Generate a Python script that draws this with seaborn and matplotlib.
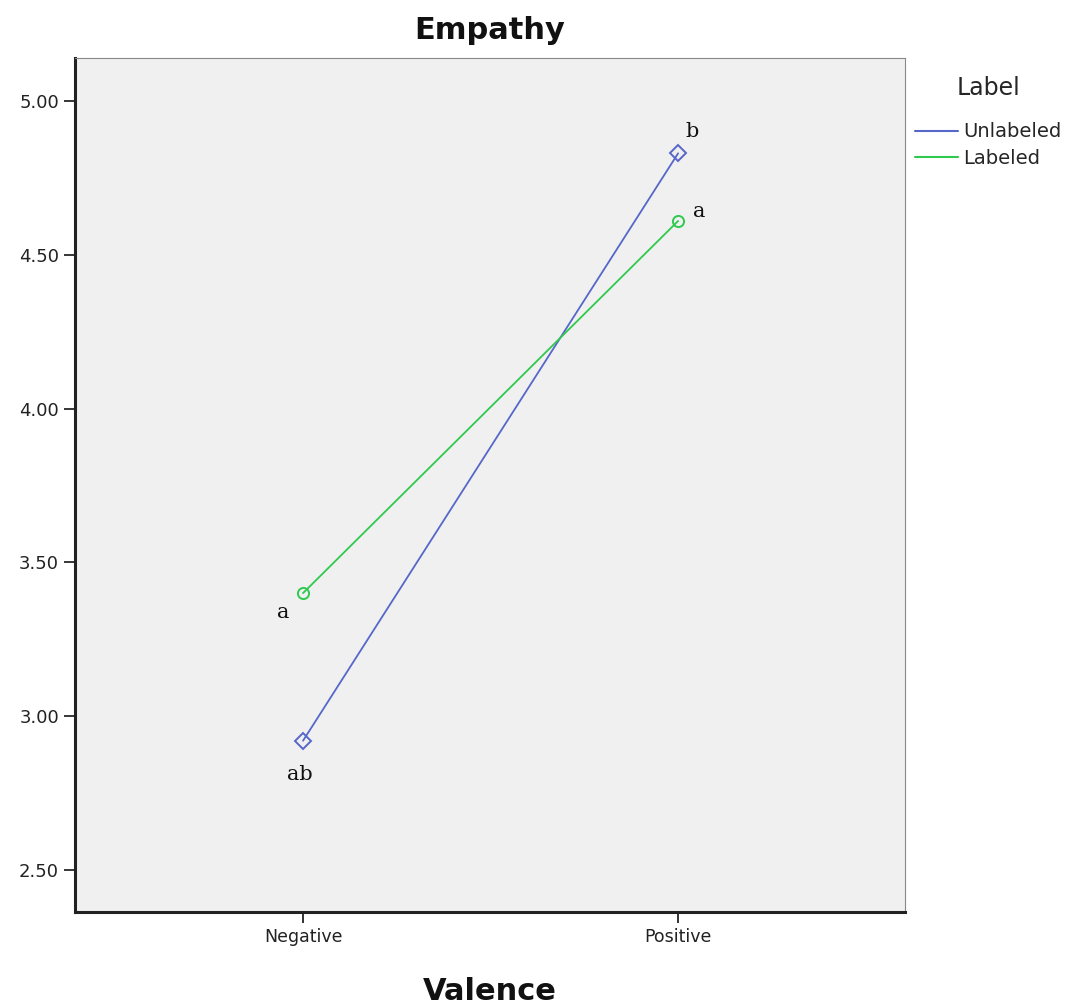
import numpy as np
import pandas as pd
import matplotlib
matplotlib.use("Agg")
import matplotlib.pyplot as plt
from matplotlib.lines import Line2D
import seaborn as sns

# data
valence = ["Negative", "Positive"]
labels = ["Unlabeled", "Labeled"]
unlabeled_means = [2.92, 4.83]
labeled_means = [3.40, 4.61]
letters_unlabeled = ["ab", "b"]
letters_labeled = ["a", "a"]
y_ticks = [2.50, 3.00, 3.50, 4.00, 4.50, 5.00]

colors = {"Unlabeled": "#5567c9", "Labeled": "#2fc94e"}

df = pd.DataFrame({
    "Valence": valence * 2,
    "Empathy": unlabeled_means + labeled_means,
    "Label": [labels[0]] * 2 + [labels[1]] * 2,
})

sns.set_style("white")
plt.rcParams["font.family"] = ["DejaVu Sans"]

fig = plt.figure(figsize=(10.68, 10.05), dpi=100)
ax = fig.add_axes([0.0702, 0.0925, 0.7772, 0.8498])
ax.set_facecolor("#f0f0f0")

sns.pointplot(data=df, x="Valence", y="Empathy", hue="Label", order=valence,
              hue_order=labels, palette=colors, markers=["D", "o"],
              errorbar=None, dodge=False, linewidth=1.3, markersize=8, ax=ax)

# hollow markers
for line in ax.lines:
    line.set_markerfacecolor("none")
    line.set_markeredgewidth(1.4)

if ax.get_legend() is not None:
    ax.get_legend().remove()

ax.set_xlim(-0.608, 1.605)
ax.set_ylim(2.363, 5.14)
ax.set_yticks(y_ticks)
ax.set_yticklabels([f"{v:.2f}" for v in y_ticks], fontsize=13, color="#222222")
ax.tick_params(axis="x", labelsize=12.5, colors="#222222", length=8, width=1.3, direction="out")
ax.tick_params(axis="y", length=8, width=1.3, direction="out")
ax.tick_params(bottom=True, left=True)

for side in ["left", "bottom"]:
    ax.spines[side].set_linewidth(2.2)
    ax.spines[side].set_color("#222222")
for side in ["top", "right"]:
    ax.spines[side].set_linewidth(0.8)
    ax.spines[side].set_color("#888888")

ax.set_title("Empathy", fontsize=22, fontweight="bold", pad=14, color="#111111")
ax.set_xlabel("Valence", fontsize=22, fontweight="bold", labelpad=22, color="#111111")
ax.set_ylabel("")

# significance letters
offsets_unl = [(-2, -24), (10, 16)]
offsets_lab = [(-14, -14), (15, 7)]
for i, v in enumerate(valence):
    ax.annotate(letters_unlabeled[i], (i, unlabeled_means[i]), xytext=offsets_unl[i],
                textcoords="offset points", ha="center", va="center",
                fontsize=15, family="DejaVu Serif", color="#111111")
    ax.annotate(letters_labeled[i], (i, labeled_means[i]), xytext=offsets_lab[i],
                textcoords="offset points", ha="center", va="center",
                fontsize=15, family="DejaVu Serif", color="#111111")

handles = [Line2D([0], [0], color=colors[l], lw=1.5) for l in labels]
leg = ax.legend(handles, labels, title="Label", loc="upper left",
                bbox_to_anchor=(1.0, 0.99), frameon=False, fontsize=14,
                title_fontsize=17, handlelength=2.2, handletextpad=0.3,
                labelspacing=0.4, borderaxespad=0.2, borderpad=0.3)
leg._legend_box.sep = 16

fig.savefig("out.png", dpi=100, facecolor="white")
